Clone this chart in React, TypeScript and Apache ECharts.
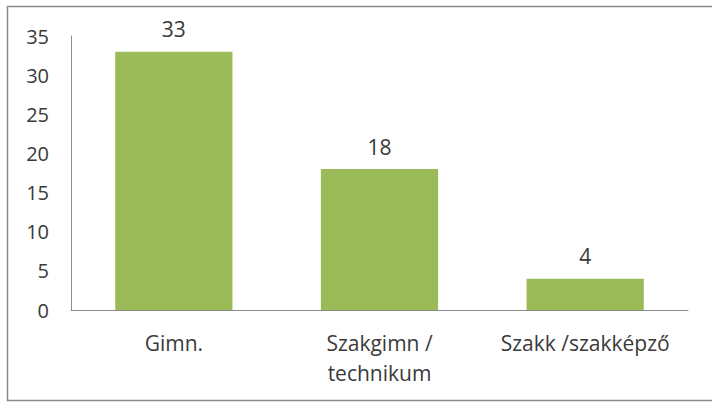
import React, { useEffect, useRef } from "react";
import * as echarts from "echarts";

const categories = ["Gimn.", "Szakgimn /\ntechnikum", "Szakk /szakképző"];
const values = [33, 18, 4];
const yMin = 0;
const yMax = 35;
const yInterval = 5;

export default function App() {
  const ref = useRef<HTMLDivElement>(null);
  useEffect(() => {
    const chart = echarts.init(ref.current!, null, { renderer: "svg" });
    const font = "'Open Sans', 'Noto Sans', sans-serif";
    chart.setOption({
      animation: false,
      backgroundColor: "#ffffff",
      grid: { left: 71, right: 24, top: 36, bottom: 93, containLabel: false },
      graphic: [
        {
          type: "rect",
          shape: { x: 7.5, y: 6.5, width: 720, height: 394 },
          style: { fill: "none", stroke: "#8a8a8a", lineWidth: 1.5 },
          silent: true,
        },
      ],
      xAxis: {
        type: "category",
        data: categories,
        axisLine: { show: true, lineStyle: { color: "#8c8c8c", width: 1 } },
        axisTick: { show: false },
        axisLabel: {
          color: "#3a3a3a",
          fontFamily: font,
          fontSize: 21,
          lineHeight: 30,
          margin: 18,
          interval: 0,
        },
      },
      yAxis: {
        type: "value",
        min: yMin,
        max: yMax,
        interval: yInterval,
        axisLine: { show: true, lineStyle: { color: "#8c8c8c", width: 1 } },
        axisTick: { show: false },
        splitLine: { show: false },
        axisLabel: {
          color: "#3a3a3a",
          fontFamily: font,
          fontSize: 20,
          margin: 22,
        },
      },
      series: [
        {
          type: "bar",
          data: values,
          barWidth: "57%",
          itemStyle: { color: "#9bbb59" },
          label: {
            show: true,
            position: "top",
            distance: 12,
            color: "#3a3a3a",
            fontFamily: font,
            fontSize: 21,
          },
        },
      ],
    });
    return () => chart.dispose();
  }, []);
  return (
    <div
      ref={ref}
      style={{ position: "fixed", left: 0, top: 0, width: 712, height: 403 }}
    />
  );
}
